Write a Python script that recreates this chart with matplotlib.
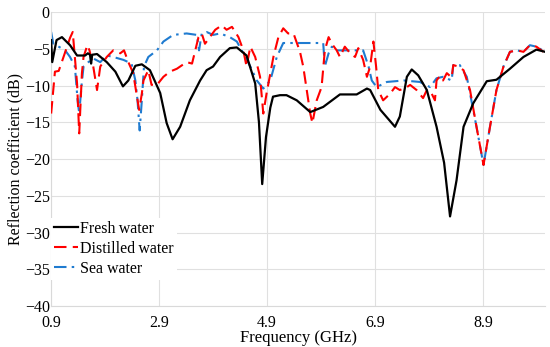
import matplotlib
matplotlib.use("Agg")
import matplotlib.pyplot as plt

plt.rcParams['font.family'] = ['Liberation Serif', 'DejaVu Serif']
plt.rcParams['axes.unicode_minus'] = True

# Fresh water (black)
fresh_f = [0.9, 0.92, 1.0, 1.1, 1.25, 1.38, 1.53, 1.58, 1.62, 1.64, 1.66, 1.75, 1.93,
           2.09, 2.23, 2.33, 2.46, 2.58, 2.73, 2.92, 3.04, 3.15, 3.29, 3.47, 3.66,
           3.78, 3.9, 4.03, 4.21, 4.34, 4.52, 4.68, 4.75, 4.81, 4.88, 4.96, 5.01,
           5.14, 5.26, 5.45, 5.70, 5.94, 6.25, 6.56, 6.75, 6.81, 7.0, 7.27, 7.36,
           7.49, 7.58, 7.70, 7.86, 8.04, 8.18, 8.29, 8.41, 8.54, 8.72, 8.97, 9.15,
           9.40, 9.65, 9.89, 10.05]
fresh_db = [-3.8, -6.8, -3.8, -3.4, -4.5, -5.9, -5.9, -5.6, -5.8, -7.0, -5.8, -5.7, -6.8,
            -8.1, -10.1, -9.3, -7.3, -7.1, -7.9, -11.0, -15.1, -17.3, -15.6, -12.0, -9.3,
            -7.9, -7.4, -6.1, -4.9, -4.8, -5.9, -9.7, -15.0, -23.4, -17.0, -13.0, -11.5,
            -11.3, -11.3, -12.0, -13.6, -12.9, -11.2, -11.2, -10.4, -10.6, -13.3, -15.6, -14.2,
            -8.8, -7.8, -8.6, -10.6, -15.6, -20.5, -27.8, -22.9, -15.6, -12.4, -9.4, -9.2,
            -7.7, -6.1, -5.1, -5.4]

# Distilled water (red)
dist_f = [0.9, 0.97, 1.04, 1.12, 1.25, 1.30, 1.38, 1.42, 1.47, 1.50, 1.57, 1.61, 1.68,
          1.75, 1.81, 1.93, 2.05, 2.18, 2.25, 2.33, 2.42, 2.49, 2.53, 2.58, 2.61, 2.70,
          2.76, 2.86, 2.98, 3.10, 3.23, 3.41, 3.51, 3.57, 3.63, 3.69, 3.75, 3.84, 3.94,
          4.06, 4.15, 4.25, 4.37, 4.46, 4.52, 4.59, 4.68, 4.77, 4.83, 4.89, 5.02, 5.11,
          5.20, 5.29, 5.39, 5.51, 5.57, 5.70, 5.74, 5.82, 5.91, 5.97, 6.04, 6.10, 6.19,
          6.25, 6.34, 6.44, 6.53, 6.59, 6.68, 6.75, 6.81, 6.87, 6.92, 6.96, 7.05, 7.18,
          7.27, 7.36, 7.49, 7.55, 7.67, 7.79, 7.86, 7.95, 8.01, 8.04, 8.10, 8.16, 8.23,
          8.32, 8.35, 8.44, 8.54, 8.66, 8.78, 8.91, 9.03, 9.15, 9.28, 9.40, 9.53, 9.65,
          9.77, 9.89, 10.02]
dist_db = [-13.8, -8.1, -8.0, -6.3, -3.5, -2.7, -9.7, -16.5, -8.3, -6.1, -4.5, -5.2, -7.4,
           -10.6, -7.4, -6.1, -5.2, -5.6, -5.2, -6.8, -8.3, -11.5, -13.3, -11.1, -9.3, -7.9,
           -9.9, -9.9, -8.8, -8.1, -7.7, -6.8, -7.0, -5.2, -3.4, -2.9, -4.3, -3.4, -2.4,
           -1.8, -2.4, -2.0, -3.4, -5.2, -7.4, -4.7, -6.1, -8.8, -13.8, -11.1, -6.0, -3.4,
           -2.2, -2.9, -2.9, -5.4, -7.4, -13.8, -15.1, -12.0, -10.2, -5.2, -3.4, -4.3, -5.2,
           -6.1, -4.7, -5.6, -6.1, -4.9, -6.5, -8.8, -7.4, -4.0, -7.4, -10.6, -12.0, -11.1,
           -10.2, -10.6, -10.2, -9.9, -10.6, -11.7, -10.6, -11.1, -12.0, -9.3, -8.7, -9.3, -8.3,
           -8.9, -7.2, -7.4, -7.9, -10.6, -15.6, -20.8, -15.6, -10.6, -7.4, -5.4, -5.2, -5.4,
           -4.5, -4.7, -5.4]

# Sea water (blue)
sea_f = [0.9, 0.94, 1.04, 1.16, 1.25, 1.34, 1.39, 1.42, 1.46, 1.50, 1.59, 1.68, 1.81,
         1.93, 2.05, 2.24, 2.39, 2.46, 2.50, 2.54, 2.58, 2.62, 2.70, 2.86, 2.98, 3.16,
         3.41, 3.60, 3.64, 3.69, 3.78, 3.90, 4.03, 4.21, 4.34, 4.46, 4.59, 4.71, 4.83,
         4.96, 5.08, 5.20, 5.51, 5.94, 5.97, 6.04, 6.10, 6.19, 6.68, 6.78, 6.84, 6.93,
         7.12, 7.43, 7.73, 7.92, 8.04, 8.16, 8.32, 8.35, 8.47, 8.60, 8.78, 8.91, 9.03,
         9.15, 9.28, 9.40, 9.53, 9.65, 9.77, 9.89, 10.05]
sea_db = [-2.7, -4.3, -4.7, -5.2, -6.1, -7.4, -12.0, -13.8, -10.2, -7.4, -6.8, -6.3, -6.8,
          -5.9, -6.1, -6.5, -7.0, -9.3, -12.0, -16.1, -12.0, -7.4, -6.1, -5.2, -4.0, -3.1,
          -2.9, -3.1, -5.2, -2.9, -2.7, -3.1, -2.9, -3.4, -4.0, -5.6, -7.4, -9.3, -10.4,
          -9.3, -6.1, -4.2, -4.2, -4.2, -7.4, -5.6, -4.7, -5.2, -5.2, -7.4, -9.3, -10.2,
          -9.5, -9.3, -9.5, -10.2, -9.0, -8.8, -9.3, -7.2, -7.2, -8.8, -15.6, -20.8, -15.6,
          -10.6, -7.4, -5.4, -5.2, -5.4, -4.5, -4.7, -5.4]

x_ticks = [0.9, 2.9, 4.9, 6.9, 8.9]
y_ticks = [-40, -35, -30, -25, -20, -15, -10, -5, 0]

fig = plt.figure(figsize=(5.5, 3.47), dpi=100)
ax = fig.add_axes([0.093, 0.118, 0.898, 0.847])

ax.plot(fresh_f, fresh_db, color='black', lw=1.6, label='Fresh\u2009water', zorder=4)
ax.plot(dist_f, dist_db, color='#ff0000', lw=1.5, dashes=(6, 3), label='Distilled\u2009water', zorder=3)
ax.plot(sea_f, sea_db, color='#1f7bd0', lw=1.5, dashes=(6, 2.5, 1.2, 2.5), label='Sea water', zorder=2)

ax.set_xlim(0.9, 10.05)
ax.set_ylim(-40, 0)
ax.set_xticks(x_ticks)
ax.set_xticklabels([f'{t:.1f}' for t in x_ticks])
ax.set_yticks(y_ticks)
ax.tick_params(axis='x', length=0, labelsize=11.5, pad=6.5)
ax.tick_params(axis='y', length=0, labelsize=11.5, pad=1)
ax.grid(True, color='#e0e0e0', lw=0.8)
ax.set_axisbelow(True)
for side in ['top', 'right']:
    ax.spines[side].set_visible(False)
for side in ['left', 'bottom']:
    ax.spines[side].set_color('#d9d9d9')

ax.set_xlabel('Frequency (GHz)', fontsize=12, labelpad=-1)
ax.set_ylabel('Reflection coefficient (dB)', fontsize=11.5, labelpad=1)

leg = ax.legend(loc='upper left', bbox_to_anchor=(0.0, 0.30), frameon=True,
                fontsize=11.5, handlelength=1.5, handletextpad=0.1, labelspacing=0.25,
                borderpad=0.2, borderaxespad=0.0, fancybox=False)
leg.get_frame().set_edgecolor('none')
leg.get_frame().set_facecolor('white')
leg.get_frame().set_alpha(1)

fig.savefig('out.png', dpi=100)
